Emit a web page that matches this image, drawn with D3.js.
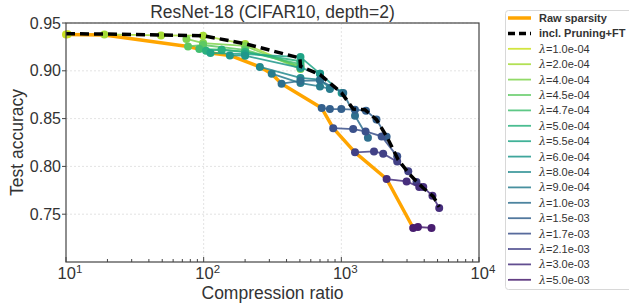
<!DOCTYPE html>
<html>
<head>
<meta charset="utf-8">
<script src="https://cdn.jsdelivr.net/npm/d3@7"></script>
<style>
  body { margin: 0; background: #fff; }
  svg { font-family: "Liberation Sans", Arial, sans-serif; }
</style>
</head>
<body>
<script>
// chart values
var lambdas = ["1.0e-04","2.0e-04","4.0e-04","4.5e-04","4.7e-04","5.0e-04","5.5e-04","6.0e-04",
               "8.0e-04","9.0e-04","1.0e-03","1.5e-03","1.7e-03","2.1e-03","3.0e-03","5.0e-03"];

var rawSparsity = [[10,0.938],[19,0.9375],[77,0.9255],[93,0.9228],[104,0.921],[112,0.9186],
  [155,0.9161],[256,0.904],[312,0.897],[368,0.8865],[720,0.861],[873,0.840],[1257,0.8147],
  [2133,0.7868],[3327,0.7356]];

var prunedFT = [[10,0.9388],[19,0.9385],[99,0.9367],[200,0.9283],[500,0.9134],[505,0.9046],
  [700,0.896],[1005,0.8768],[1220,0.860],[1483,0.8593],[1803,0.8488],[2133,0.8314],
  [2588,0.807],[3148,0.7913],[3936,0.7774],[4650,0.7686],[5140,0.7576]];

var lambdaSeries = [
  [[10,0.938],[10.3,0.9382]],
  [[19,0.938],[49,0.937],[99,0.9367],[200,0.928],[505,0.903]],
  [[75,0.9333],[99,0.929],[200,0.926],[505,0.902]],
  [[77,0.9255],[99,0.927],[200,0.922],[505,0.905]],
  [[93,0.9228],[135,0.922],[200,0.920],[505,0.907]],
  [[104,0.921],[135,0.922],[200,0.9195],[505,0.910]],
  [[112,0.9186],[200,0.9175],[505,0.9144],[700,0.897]],
  [[155,0.9161],[200,0.9158],[505,0.903],[700,0.897],[1005,0.8768]],
  [[256,0.904],[505,0.8925],[700,0.8907],[826,0.882]],
  [[312,0.897],[505,0.8872],[700,0.8837],[826,0.881]],
  [[368,0.8865],[505,0.8895],[700,0.890],[1033,0.8768],[1257,0.853],[1560,0.830]],
  [[720,0.861],[826,0.860],[1000,0.860],[1256,0.8593],[1510,0.8583],[1800,0.849],[2133,0.831]],
  [[873,0.840],[1219,0.839],[1500,0.8366],[1963,0.8314],[2546,0.8105]],
  [[1257,0.8147],[1727,0.8157],[2014,0.8133],[2546,0.805],[3063,0.7948],[3514,0.7837]],
  [[2133,0.7868],[2980,0.7843],[3680,0.7784],[3936,0.7784],[4590,0.7693],[5140,0.7565]],
  [[3327,0.7356],[3600,0.7366],[4520,0.7356]]
];

var yTicks = [0.75, 0.80, 0.85, 0.90, 0.95];
var xTicks = [10, 100, 1000, 10000];

var width = 629, height = 304;
var mLeft = 66, mRight = 479, mTop = 23, mBottom = 262;

var svg = d3.select("body").append("svg")
  .attr("width", width)
  .attr("height", height);

var x = d3.scaleLog().domain([10, 10000]).range([mLeft, mRight]);
var y = d3.scaleLinear().domain([0.70, 0.95]).range([mBottom, mTop]);

var color = function(i) { return d3.interpolateViridis(0.92 - i * 0.84 / (lambdas.length - 1)); };

// grid
svg.append("g").selectAll("line")
  .data(yTicks)
  .join("line")
  .attr("x1", mLeft).attr("x2", mRight)
  .attr("y1", d => y(d)).attr("y2", d => y(d))
  .attr("stroke", "#dcdcdc").attr("stroke-width", 0.8)
  .attr("stroke-dasharray", "2,2");
svg.append("g").selectAll("line")
  .data([100, 1000])
  .join("line")
  .attr("x1", d => x(d)).attr("x2", d => x(d))
  .attr("y1", mTop).attr("y2", mBottom)
  .attr("stroke", "#dcdcdc").attr("stroke-width", 0.8)
  .attr("stroke-dasharray", "2,2");

var line = d3.line().x(d => x(d[0])).y(d => y(d[1]));

// raw sparsity
svg.append("path")
  .datum(rawSparsity)
  .attr("d", line)
  .attr("fill", "none")
  .attr("stroke", "#ffa500")
  .attr("stroke-width", 3.5)
  .attr("stroke-linejoin", "round");

// lambda runs
lambdaSeries.forEach(function(s, i) {
  var g = svg.append("g");
  g.append("path")
    .datum(s)
    .attr("d", line)
    .attr("fill", "none")
    .attr("stroke", color(i))
    .attr("stroke-opacity", 0.85)
    .attr("stroke-width", 1.8);
  g.selectAll("circle")
    .data(s)
    .join("circle")
    .attr("cx", d => x(d[0]))
    .attr("cy", d => y(d[1]))
    .attr("r", 4)
    .attr("fill", color(i));
});

// pruning + finetune envelope
svg.append("path")
  .datum(prunedFT)
  .attr("d", line)
  .attr("fill", "none")
  .attr("stroke", "#000")
  .attr("stroke-width", 3.5)
  .attr("stroke-dasharray", "9,5");

// frame
svg.append("rect")
  .attr("x", mLeft).attr("y", mTop)
  .attr("width", mRight - mLeft).attr("height", mBottom - mTop)
  .attr("fill", "none").attr("stroke", "#444").attr("stroke-width", 1.2);

// y axis
var yAxis = svg.append("g");
yAxis.selectAll("line")
  .data(yTicks)
  .join("line")
  .attr("x1", mLeft - 4).attr("x2", mLeft)
  .attr("y1", d => y(d)).attr("y2", d => y(d))
  .attr("stroke", "#444");
yAxis.selectAll("text")
  .data(yTicks)
  .join("text")
  .attr("x", mLeft - 5)
  .attr("y", d => y(d))
  .attr("dy", "0.35em")
  .attr("text-anchor", "end")
  .attr("font-size", 16)
  .attr("fill", "#333")
  .text(d => d3.format(".2f")(d));

// x axis ticks (inward)
var minor = [];
for (var e = 1; e < 4; e++) {
  for (var k = 2; k < 10; k++) minor.push(k * Math.pow(10, e));
}
svg.append("g").selectAll("line")
  .data(minor)
  .join("line")
  .attr("x1", d => x(d)).attr("x2", d => x(d))
  .attr("y1", mBottom).attr("y2", mBottom - 3)
  .attr("stroke", "#444");
svg.append("g").selectAll("line")
  .data(xTicks)
  .join("line")
  .attr("x1", d => x(d)).attr("x2", d => x(d))
  .attr("y1", mBottom).attr("y2", mBottom - 5)
  .attr("stroke", "#444");
var xl = svg.append("g").selectAll("text")
  .data(xTicks)
  .join("text")
  .attr("x", d => x(d) + 4)
  .attr("y", mBottom + 17)
  .attr("text-anchor", "middle")
  .attr("font-size", 16.5)
  .attr("fill", "#333");
xl.append("tspan").text("10");
xl.append("tspan")
  .attr("font-size", 11.5)
  .attr("dy", -6)
  .text(d => Math.round(Math.log10(d)));

// labels
svg.append("text")
  .attr("x", (mLeft + mRight) / 2).attr("y", 18)
  .attr("text-anchor", "middle")
  .attr("font-size", 17.5)
  .attr("fill", "#333")
  .text("ResNet-18 (CIFAR10, depth=2)");
svg.append("text")
  .attr("x", (mLeft + mRight) / 2).attr("y", 299)
  .attr("text-anchor", "middle")
  .attr("font-size", 17.5)
  .attr("fill", "#333")
  .text("Compression ratio");
svg.append("text")
  .attr("transform", "translate(23," + ((mTop + mBottom) / 2) + ") rotate(-90)")
  .attr("text-anchor", "middle")
  .attr("font-size", 17.5)
  .attr("fill", "#333")
  .text("Test accuracy");

// legend
var leg = svg.append("g");
leg.append("rect")
  .attr("x", 505.5).attr("y", 10.5)
  .attr("width", 140).attr("height", 279)
  .attr("rx", 3)
  .attr("fill", "#fff")
  .attr("stroke", "#d8d8d8");

var legItems = [
  {label: "Raw sparsity", color: "#ffa500", w: 3.5, dash: null, bold: true},
  {label: "incl. Pruning+FT", color: "#000", w: 3.5, dash: "7,4", bold: true}
];
lambdas.forEach(function(l, i) {
  legItems.push({label: l, color: color(i), w: 1.8, dash: null, bold: false, lam: true});
});

legItems.forEach(function(it, i) {
  var yy = 18 + i * 15.4;
  leg.append("line")
    .attr("x1", 508).attr("x2", 531)
    .attr("y1", yy).attr("y2", yy)
    .attr("stroke", it.color)
    .attr("stroke-opacity", it.lam ? 0.85 : 1)
    .attr("stroke-width", it.w)
    .attr("stroke-dasharray", it.dash);
  var t = leg.append("text")
    .attr("x", 539).attr("y", yy)
    .attr("dy", "0.36em")
    .attr("font-size", 11)
    .attr("fill", "#333")
    .attr("font-weight", it.bold ? "bold" : "normal");
  if (it.lam) {
    t.append("tspan").attr("font-family", "DejaVu Serif").attr("font-style", "italic").text("λ");
    t.append("tspan").text("=" + it.label);
  } else {
    t.text(it.label);
  }
});
</script>
</body>
</html>
